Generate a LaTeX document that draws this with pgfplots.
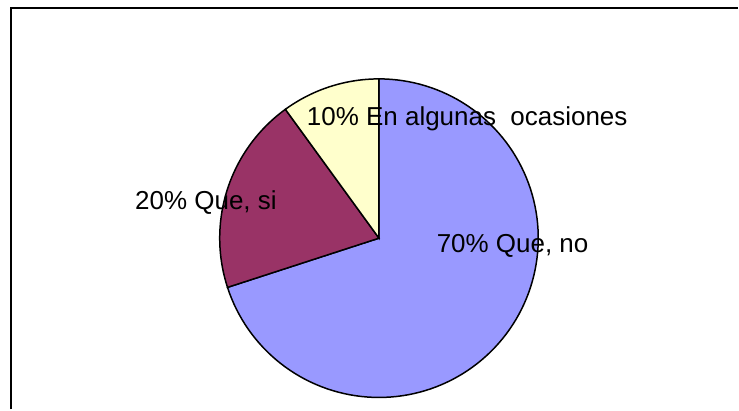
\documentclass[border=0pt]{standalone}
\usepackage{pgfplots}
\pgfplotsset{compat=1.18}
\usepackage{fontspec}
\setmainfont{Liberation Sans}
\definecolor{sBlue}{HTML}{9999FF}
\definecolor{sMaroon}{HTML}{993366}
\definecolor{sYellow}{HTML}{FFFFCC}
\tikzset{lbl/.style={font=\fontsize{13}{15}\selectfont, inner sep=0pt, anchor=base west}}
\begin{document}
\begin{tikzpicture}
\begin{axis}[
  scale only axis, width=369.5pt, height=205pt,
  xmin=0, xmax=739, ymin=0, ymax=410, y dir=reverse,
  hide axis, clip=false,
]
\path (axis cs:0,0) rectangle (axis cs:739,410);
% centre (379.5,238.5), radius 159.5; shares: 70%, 20%, 10% (clockwise from top)
\addplot[fill=sBlue, draw=black, line width=0.75pt, domain=90:-162, samples=120]
  ({379.5+159.5*cos(x)},{238.5-159.5*sin(x)}) -- (axis cs:379.5,238.5) -- cycle;
\addplot[fill=sMaroon, draw=black, line width=0.75pt, domain=-162:-234, samples=40]
  ({379.5+159.5*cos(x)},{238.5-159.5*sin(x)}) -- (axis cs:379.5,238.5) -- cycle;
\addplot[fill=sYellow, draw=black, line width=0.75pt, domain=-234:-270, samples=25]
  ({379.5+159.5*cos(x)},{238.5-159.5*sin(x)}) -- (axis cs:379.5,238.5) -- cycle;
\node[lbl] at (axis cs:307,125.5) {10\% En algunas\ \ ocasiones};
\node[lbl] at (axis cs:135,210) {20\% Que, si};
\node[lbl] at (axis cs:437,253) {70\% Que, no};
\draw[line width=1pt] (axis cs:11,410) -- (axis cs:11,8.5) -- (axis cs:739,8.5);
\end{axis}
\end{tikzpicture}
\end{document}
